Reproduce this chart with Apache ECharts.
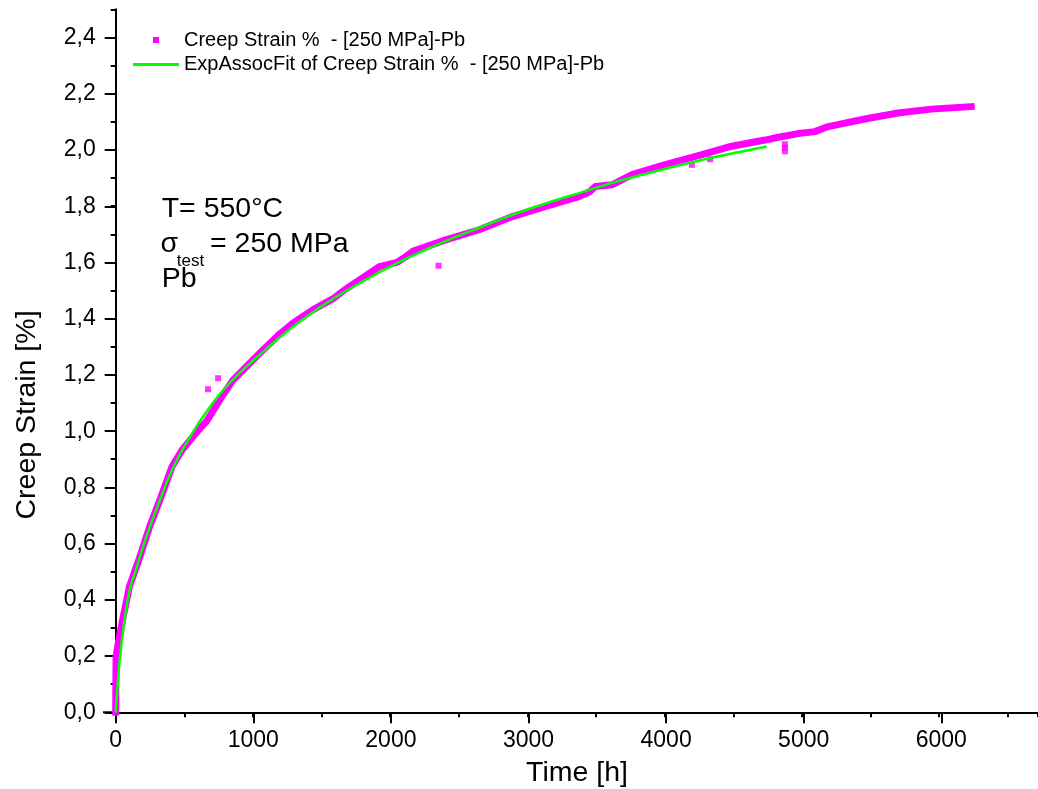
<!DOCTYPE html>
<html>
<head>
<meta charset="utf-8">
<script src="https://cdn.jsdelivr.net/npm/echarts@6/dist/echarts.min.js"></script>
<style>html,body{margin:0;padding:0;background:#fff}#c{width:1038px;height:789px}</style>
</head>
<body>
<div id="c"></div>
<script>
// ---- data ----
var seriesNames = ['Creep Strain %  - [250 MPa]-Pb', 'ExpAssocFit of Creep Strain %  - [250 MPa]-Pb'];
var creepTime   = [0, 1, 3, 20, 55, 100, 177, 247, 322, 411, 484, 530, 625, 661, 758, 855, 1049, 1194, 1291, 1436, 1581, 1679, 1921, 2050, 2115, 2163, 2405, 2648, 2890, 3132, 3374, 3450, 3496, 3616, 3762, 4004, 4246, 4488, 4731, 4828, 4973, 5094, 5191, 5458, 5700, 5942, 6233];
var creepStrain = [0, 0.10, 0.20, 0.25, 0.34, 0.447, 0.554, 0.66, 0.755, 0.874, 0.933, 0.96, 1.016, 1.034, 1.111, 1.182, 1.277, 1.345, 1.384, 1.431, 1.47, 1.506, 1.585, 1.60, 1.621, 1.639, 1.68, 1.716, 1.763, 1.799, 1.834, 1.85, 1.87, 1.876, 1.912, 1.948, 1.98, 2.013, 2.035, 2.045, 2.058, 2.065, 2.083, 2.11, 2.131, 2.145, 2.154];
var outlierTime   = [673, 746, 1206, 2352, 4198, 4331, 4876, 4876, 4876];
var outlierStrain = [1.149, 1.188, 1.348, 1.588, 1.947, 1.967, 1.995, 2.008, 2.02];
var fitTime   = [0, 10, 30, 60, 100, 150, 200, 250, 300, 350, 400, 450, 500, 600, 700, 800, 900, 1000, 1200, 1400, 1600, 1800, 2000, 2200, 2400, 2600, 2800, 3000, 3200, 3400, 3600, 3800, 4000, 4200, 4400, 4600, 4743];
var fitStrain = [0, 0.07, 0.19, 0.31, 0.43, 0.51, 0.59, 0.66, 0.727, 0.79, 0.85, 0.9, 0.945, 1.025, 1.095, 1.155, 1.205, 1.25, 1.335, 1.41, 1.475, 1.532, 1.585, 1.632, 1.675, 1.714, 1.752, 1.788, 1.82, 1.85, 1.88, 1.907, 1.932, 1.956, 1.978, 1.998, 2.012];
var xMajorLabels = [0, 1000, 2000, 3000, 4000, 5000, 6000];
var yMajorLabels = ['0,0','0,2','0,4','0,6','0,8','1,0','1,2','1,4','1,6','1,8','2,0','2,2','2,4'];

function zip(a, b) { return a.map(function (v, i) { return [v, b[i]]; }); }

var FONT = "'Liberation Sans', Arial, sans-serif";
var chart = echarts.init(document.getElementById('c'), null, { renderer: 'canvas' });
var axisLine = { show: true, lineStyle: { color: '#000', width: 2 } };

var option = {
  backgroundColor: '#ffffff',
  animation: false,
  grid: [
    { left: 115.7, right: -2.4, top: 9.3, bottom: 76.7 },
    { left: 115.7, right: 96.7, top: 37.7, bottom: 76.7 }
  ],
  xAxis: [
    { gridIndex: 0, type: 'value', min: 0, max: 6720, interval: 500,
      axisLine: axisLine, axisTick: { show: true, length: 5, lineStyle: { color: '#000', width: 2 } },
      axisLabel: { show: false }, splitLine: { show: false } },
    { gridIndex: 1, type: 'value', min: 0, max: 6000, interval: 1000,
      axisLine: { show: false }, axisTick: { show: true, length: 11, lineStyle: { color: '#000', width: 2 } },
      axisLabel: { show: true, margin: 17, color: '#000', fontSize: 23, fontFamily: FONT,
        formatter: function (v) { return xMajorLabels.indexOf(v) >= 0 ? String(v) : ''; } },
      splitLine: { show: false } }
  ],
  yAxis: [
    { gridIndex: 0, type: 'value', min: 0, max: 2.5, interval: 0.1,
      axisLine: axisLine, axisTick: { show: true, length: 5, lineStyle: { color: '#000', width: 2 } },
      axisLabel: { show: false }, splitLine: { show: false } },
    { gridIndex: 1, type: 'value', min: 0, max: 2.4, interval: 0.2,
      axisLine: { show: false }, axisTick: { show: true, length: 11, lineStyle: { color: '#000', width: 2 } },
      axisLabel: { show: true, margin: 20, color: '#000', fontSize: 23, fontFamily: FONT,
        formatter: function (v) { var i = Math.round(v / 0.2); return yMajorLabels[i] || ''; } },
      splitLine: { show: false } }
  ],
  legend: {
    orient: 'vertical', left: 128, top: 25, itemWidth: 46, itemHeight: 6, itemGap: 4.5,
    symbolKeepAspect: true,
    textStyle: { color: '#000', fontSize: 20, fontFamily: FONT },
    data: [
      { name: seriesNames[0], icon: 'path://M0,0h1v1h-1z' },
      { name: seriesNames[1], icon: 'path://M0,0h46v3h-46z' }
    ]
  },
  series: [
    { name: seriesNames[0], type: 'line', xAxisIndex: 0, yAxisIndex: 0,
      data: zip(creepTime, creepStrain), showSymbol: false, smooth: false,
      color: '#ff00ff', lineStyle: { color: '#ff00ff', width: 7, cap: 'square', join: 'round' }, z: 2 },
    { name: seriesNames[0], type: 'scatter', xAxisIndex: 0, yAxisIndex: 0,
      data: zip(outlierTime, outlierStrain), symbol: 'rect', symbolSize: 6,
      itemStyle: { color: '#ff00ff' }, z: 2 },
    { name: seriesNames[1], type: 'line', xAxisIndex: 0, yAxisIndex: 0,
      data: zip(fitTime, fitStrain), showSymbol: false, smooth: true,
      color: '#00ff00', lineStyle: { color: '#00ff00', width: 2.5 }, z: 3 }
  ],
  graphic: [
    { type: 'line', shape: { x1: 103, y1: 712.3, x2: 116, y2: 712.3 }, style: { stroke: '#000', lineWidth: 2 } },
    { type: 'text', x: 161.7, y: 208.7, style: { text: 'T= 550°C', font: '28.5px ' + FONT, fill: '#000', verticalAlign: 'middle' } },
    { type: 'text', x: 160.5, y: 243.7, style: { text: 'σ', font: '28.5px ' + FONT, fill: '#000', verticalAlign: 'middle' } },
    { type: 'text', x: 176.7, y: 261, style: { text: 'test', font: '17px ' + FONT, fill: '#000', verticalAlign: 'middle' } },
    { type: 'text', x: 210, y: 243.7, style: { text: '= 250 MPa', font: '28.5px ' + FONT, fill: '#000', verticalAlign: 'middle' } },
    { type: 'text', x: 161.7, y: 279.5, style: { text: 'Pb', font: '28.5px ' + FONT, fill: '#000', verticalAlign: 'middle' } },
    { type: 'text', x: 577, y: 773, style: { text: 'Time [h]', font: '28.5px ' + FONT, fill: '#000', align: 'center', verticalAlign: 'middle' } },
    { type: 'text', x: 27, y: 415, rotation: Math.PI / 2, style: { text: 'Creep Strain [%]', font: '28.5px ' + FONT, fill: '#000', align: 'center', verticalAlign: 'middle' } }
  ]
};
chart.setOption(option);
</script>
</body>
</html>
